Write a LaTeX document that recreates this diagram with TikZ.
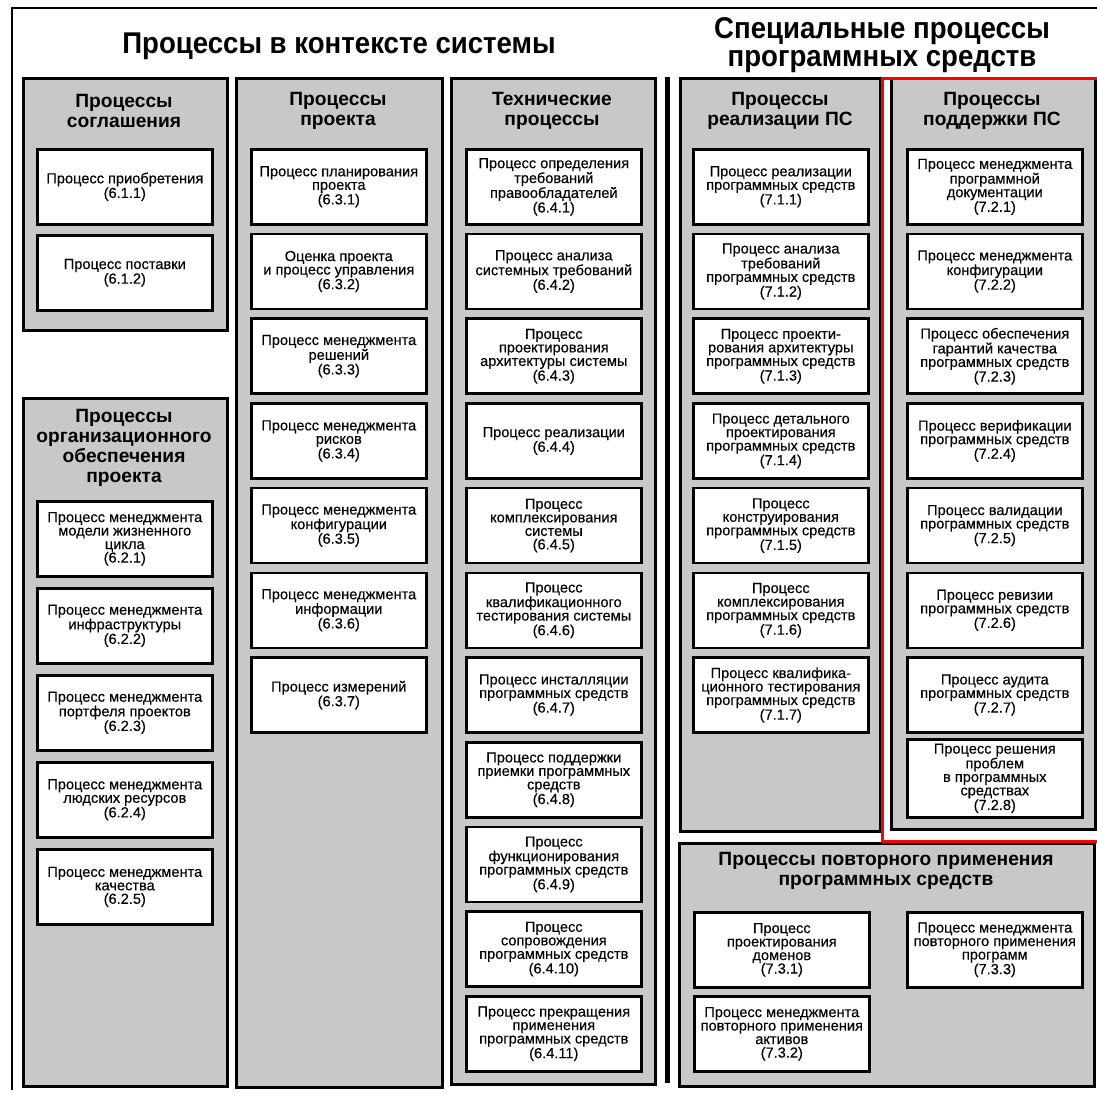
\documentclass[tikz,border=0pt]{standalone}
\usepackage{fontspec}
\setmainfont{Liberation Sans}
\newfontfamily\boxfont{Liberation Sans}[FakeBold=0.3]
\definecolor{panelgray}{RGB}{200,200,200}
\tikzset{
  panel/.style={draw=black, line width=2.5pt, fill=panelgray, anchor=north west, inner sep=0pt},
  pbox/.style={draw=black, line width=2.6pt, fill=white, anchor=north west, inner sep=0pt,
    minimum width=175pt, minimum height=75pt, align=center,
    font=\boxfont\fontsize{14.6}{13.5}\selectfont},
  ptitle/.style={align=center, inner sep=0pt, font=\bfseries\fontsize{19.2}{20}\selectfont},
  heading/.style={align=center, inner sep=0pt, font=\bfseries\fontsize{30}{28}\selectfont},
}
\newcommand\bx[4]{\node[pbox] (#1) at (#2,#3) {#4};}
\newcommand\hs[1]{\scalebox{0.92}[1]{#1}}
\begin{document}
\begin{tikzpicture}[x=1pt,y=-1pt]
\useasboundingbox (0,0) rectangle (1097,1093);
\fill[white] (0,0) rectangle (1097,1093);
% outer frame
\coordinate (fr1) at (1097,8);
\coordinate (fr2) at (12,8);
\coordinate (fr3) at (12,1090);
\draw[line width=2.5pt] (fr1) -- (fr2) -- (fr3);
% headings
\node[heading] (h1) at (339,46) {\hs{Процессы в контексте системы}};
\node[heading] (h2) at (882,45) {\hs{Специальные процессы}\\\hs{программных средств}};
% panels
\node[panel, minimum width=204pt, minimum height=252pt] (p1) at (22,77) {};
\node[panel, minimum width=204pt, minimum height=688pt] (p1b) at (22,397) {};
\node[panel, minimum width=206pt, minimum height=1009pt] (p2) at (235,77) {};
\node[panel, minimum width=204pt, minimum height=1006pt] (p3) at (450,77) {};
\node[panel, minimum width=200pt, minimum height=753pt] (p4) at (679,77) {};
\node[panel, minimum width=204pt, minimum height=751pt] (p5) at (890,77) {};
\node[panel, minimum width=415pt, minimum height=243pt] (p6) at (678,842) {};
% separator
\node[fill=black, minimum width=5pt, minimum height=1006pt, inner sep=0pt, anchor=north] (sep) at (667,77) {};
% panel titles
\node[ptitle] (t1) at (124,111) {Процессы\\соглашения};
\node[ptitle] (t1b) at (124,448) {Процессы\\организационного\\обеспечения\\проекта};
\node[ptitle] (t2) at (338,111) {Процессы\\проекта};
\node[ptitle] (t3) at (552,111) {Технические\\процессы};
\node[ptitle] (t4) at (780,111) {Процессы\\реализации ПС};
\node[ptitle] (t5) at (992,111) {Процессы\\поддержки ПС};
\node[ptitle] (t6) at (886,871) {Процессы повторного применения\\программных средств};
% column 1
\bx{b611}{36}{148}{Процесс приобретения\\(6.1.1)}
\bx{b612}{36}{234}{Процесс поставки\\(6.1.2)}
% column 1b
\bx{b621}{36}{500}{Процесс менеджмента\\модели жизненного\\цикла\\(6.2.1)}
\bx{b622}{36}{587}{Процесс менеджмента\\инфраструктуры\\(6.2.2)}
\bx{b623}{36}{674}{Процесс менеджмента\\портфеля проектов\\(6.2.3)}
\bx{b624}{36}{761}{Процесс менеджмента\\людских ресурсов\\(6.2.4)}
\bx{b625}{36}{848}{Процесс менеджмента\\качества\\(6.2.5)}
% column 2
\bx{b631}{250}{148}{Процесс планирования\\проекта\\(6.3.1)}
\bx{b632}{250}{232.7}{Оценка проекта\\и процесс управления\\(6.3.2)}
\bx{b633}{250}{317.4}{Процесс менеджмента\\решений\\(6.3.3)}
\bx{b634}{250}{402.1}{Процесс менеджмента\\рисков\\(6.3.4)}
\bx{b635}{250}{486.8}{Процесс менеджмента\\конфигурации\\(6.3.5)}
\bx{b636}{250}{571.5}{Процесс менеджмента\\информации\\(6.3.6)}
\bx{b637}{250}{656.2}{Процесс измерений\\(6.3.7)}
% column 3
\bx{b641}{465}{148}{Процесс определения\\требований\\правообладателей\\(6.4.1)}
\bx{b642}{465}{232.7}{Процесс анализа\\системных требований\\(6.4.2)}
\bx{b643}{465}{317.4}{Процесс\\проектирования\\архитектуры системы\\(6.4.3)}
\bx{b644}{465}{402.1}{Процесс реализации\\(6.4.4)}
\bx{b645}{465}{486.8}{Процесс\\комплексирования\\системы\\(6.4.5)}
\bx{b646}{465}{571.5}{Процесс\\квалификационного\\тестирования системы\\(6.4.6)}
\bx{b647}{465}{656.2}{Процесс инсталляции\\программных средств\\(6.4.7)}
\bx{b648}{465}{740.9}{Процесс поддержки\\приемки программных\\средств\\(6.4.8)}
\bx{b649}{465}{825.6}{Процесс\\функционирования\\программных средств\\(6.4.9)}
\bx{b6410}{465}{910.3}{Процесс\\сопровождения\\программных средств\\(6.4.10)}
\bx{b6411}{465}{995}{Процесс прекращения\\применения\\программных средств\\(6.4.11)}
% column 4
\bx{b711}{692}{148}{Процесс реализации\\программных средств\\(7.1.1)}
\bx{b712}{692}{232.7}{Процесс анализа\\требований\\программных средств\\(7.1.2)}
\bx{b713}{692}{317.4}{Процесс проекти-\\рования архитектуры\\программных средств\\(7.1.3)}
\bx{b714}{692}{402.1}{Процесс детального\\проектирования\\программных средств\\(7.1.4)}
\bx{b715}{692}{486.8}{Процесс\\конструирования\\программных средств\\(7.1.5)}
\bx{b716}{692}{571.5}{Процесс\\комплексирования\\программных средств\\(7.1.6)}
\bx{b717}{692}{656.2}{Процесс квалифика-\\ционного тестирования\\программных средств\\(7.1.7)}
% column 5
\bx{b721}{906}{148}{Процесс менеджмента\\программной\\документации\\(7.2.1)}
\bx{b722}{906}{232.7}{Процесс менеджмента\\конфигурации\\(7.2.2)}
\bx{b723}{906}{317.4}{Процесс обеспечения\\гарантий качества\\программных средств\\(7.2.3)}
\bx{b724}{906}{402.1}{Процесс верификации\\программных средств\\(7.2.4)}
\bx{b725}{906}{486.8}{Процесс валидации\\программных средств\\(7.2.5)}
\bx{b726}{906}{571.5}{Процесс ревизии\\программных средств\\(7.2.6)}
\bx{b727}{906}{656.2}{Процесс аудита\\программных средств\\(7.2.7)}
\node[pbox, minimum height=78pt] (b728) at (906,738) {Процесс решения\\проблем\\в программных\\средствах\\(7.2.8)};
% bottom panel
\bx{b731}{693}{911}{Процесс\\проектирования\\доменов\\(7.3.1)}
\bx{b732}{693}{995}{Процесс менеджмента\\повторного применения\\активов\\(7.3.2)}
\bx{b733}{906}{911}{Процесс менеджмента\\повторного применения\\программ\\(7.3.3)}
% red frame
\coordinate (r1) at (1100,78);
\coordinate (r2) at (882,78);
\coordinate (r3) at (882,841);
\coordinate (r4) at (1100,841);
\draw[red, line width=3pt] (r1) -- (r2) -- (r3) -- (r4);
\end{tikzpicture}
\end{document}
